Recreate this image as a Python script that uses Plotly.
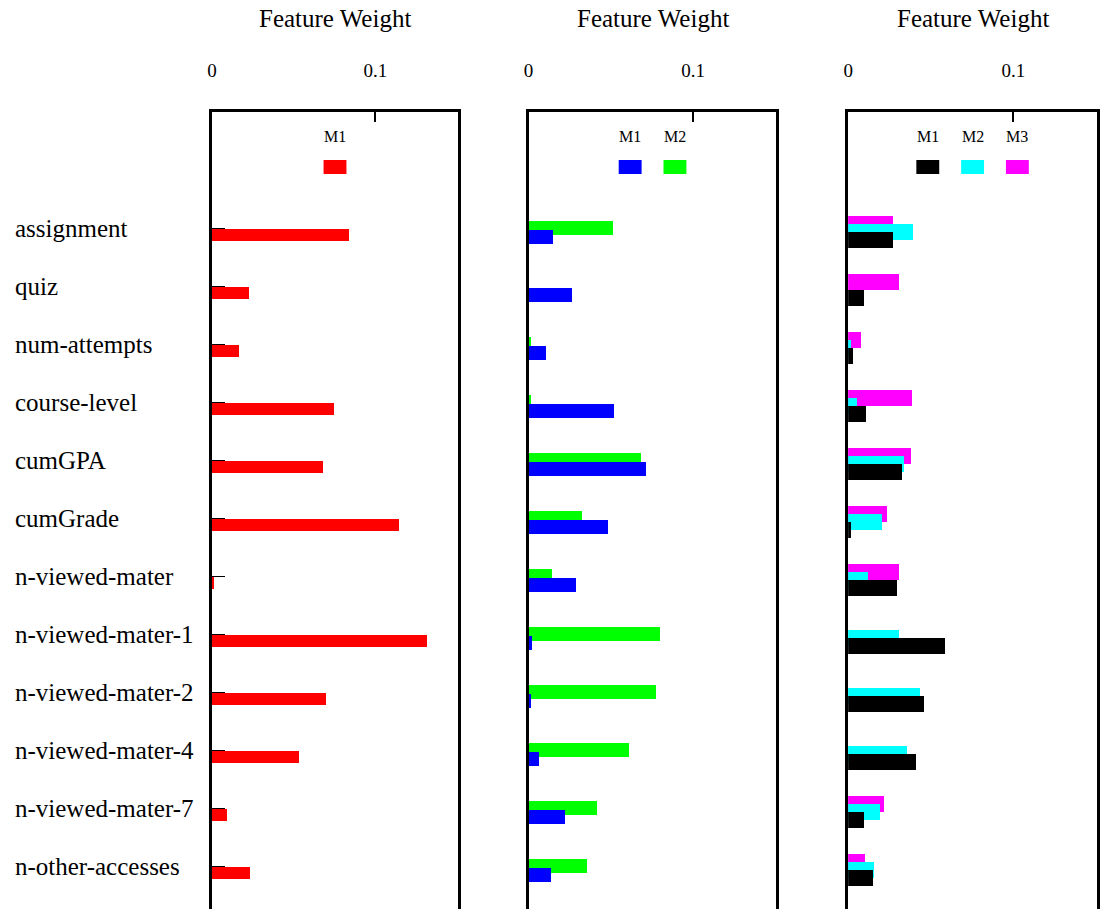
import plotly.graph_objects as go

# Feature names, top to bottom
features = [
    "assignment", "quiz", "num-attempts", "course-level", "cumGPA", "cumGrade",
    "n-viewed-mater", "n-viewed-mater-1", "n-viewed-mater-2", "n-viewed-mater-4",
    "n-viewed-mater-7", "n-other-accesses",
]

# Panel 1: single model
p1_m1 = [0.084, 0.0226, 0.0163, 0.075, 0.0677, 0.1146, 0.001, 0.1317, 0.070, 0.053, 0.009, 0.023]

# Panel 2: two models
p2_m1 = [0.0145, 0.0259, 0.0102, 0.0518, 0.071, 0.048, 0.0283, 0.0018, 0.0012, 0.006, 0.0217, 0.0133]
p2_m2 = [0.0512, 0.0, 0.0012, 0.001, 0.068, 0.032, 0.0139, 0.0795, 0.0771, 0.0608, 0.0416, 0.0355]

# Panel 3: three models
p3_m1 = [0.0271, 0.0096, 0.003, 0.0108, 0.0325, 0.0018, 0.0295, 0.0584, 0.0458, 0.041, 0.0096, 0.0151]
p3_m2 = [0.0392, 0.0, 0.0018, 0.0054, 0.0337, 0.0205, 0.012, 0.0307, 0.0434, 0.0355, 0.0193, 0.0157]
p3_m3 = [0.0271, 0.0307, 0.0078, 0.0386, 0.038, 0.0235, 0.0307, 0.0, 0.0, 0.0, 0.0217, 0.0102]

x_ticks = [0, 0.1]
x_tick_text = ["0", "0.1"]
axis_title = "Feature Weight"

W, H = 1101, 909
FONT = "Liberation Serif, Times New Roman, serif"

RED, BLUE, GREEN = "#ff0000", "#0000ff", "#00ff00"
BLACK, CYAN, MAGENTA = "#000000", "#00ffff", "#ff00ff"


def px_x(p):
    return p / W


def px_y(p):
    return 1 - p / H


# pixel extents of the three panels
panels = [(208, 455), (526, 775), (847, 1097)]
top_px = 112

fig = go.Figure()

# each panel: list of (name, values, color, offset, width) in draw order
row_h = 58.0
series = [
    [("M1", p1_m1, RED, 1 / row_h, 12 / row_h)],
    [("M2", p2_m2, GREEN, -7 / row_h, 14 / row_h),
     ("M1", p2_m1, BLUE, 2 / row_h, 14 / row_h)],
    [("M3", p3_m3, MAGENTA, -12 / row_h, 16 / row_h),
     ("M2", p3_m2, CYAN, -4 / row_h, 16 / row_h),
     ("M1", p3_m1, BLACK, 4 / row_h, 16 / row_h)],
]
legend_order = [
    [("M1", RED)],
    [("M1", BLUE), ("M2", GREEN)],
    [("M1", BLACK), ("M2", CYAN), ("M3", MAGENTA)],
]

y_range = [(H - 228) / row_h, (top_px - 228) / row_h]

annotations = []
shapes = []

for i, ((x0, x1), traces) in enumerate(zip(panels, series)):
    k = "" if i == 0 else str(i + 1)
    for name, vals, color, off, wid in traces:
        fig.add_trace(go.Bar(
            x=vals, y=features, orientation="h", name=name,
            marker=dict(color=color, line=dict(width=0)),
            offset=off, width=wid, showlegend=False,
            xaxis="x" + k, yaxis="y" + k,
        ))
    fig.update_layout(**{
        "xaxis" + k: dict(
            domain=[px_x(x0), px_x(x1)], range=[0, 0.1506], side="top",
            anchor="y" + k, showgrid=False, zeroline=False,
            showline=True, linecolor="black", linewidth=2.5,
            tickvals=x_ticks, ticktext=x_tick_text, ticks="inside",
            ticklen=10, tickwidth=2, tickcolor="black",
            ticklabelstandoff=25,
            tickfont=dict(family=FONT, size=19, color="black"),
        ),
        "yaxis" + k: dict(
            domain=[0, px_y(top_px)], range=y_range, type="category",
            anchor="x" + k, showgrid=False, zeroline=False,
            showline=True, mirror=True, linecolor="black", linewidth=2.5,
            showticklabels=False,
            ticks="inside" if i == 0 else "", ticklen=13, tickwidth=1,
            tickcolor="black",
        ),
    })

    # axis title above the tick labels
    cx = (x0 + x1) / 2
    annotations.append(dict(
        text=axis_title, xref="paper", yref="paper", x=px_x(cx), y=px_y(18),
        xanchor="center", yanchor="middle", showarrow=False,
        font=dict(family=FONT, size=25, color="black"),
    ))

    # legend: labels above colour swatches, centred in the panel
    items = legend_order[i]
    spacing = 45
    sw, sh = 23, 14
    n = len(items)
    for j, (lab, col) in enumerate(items):
        sx = cx + (j - (n - 1) / 2) * spacing
        shapes.append(dict(
            type="rect", xref="paper", yref="paper",
            x0=px_x(sx - sw / 2), x1=px_x(sx + sw / 2),
            y0=px_y(174), y1=px_y(160),
            fillcolor=col, line=dict(width=0),
        ))
        annotations.append(dict(
            text=lab, xref="paper", yref="paper", x=px_x(sx), y=px_y(136),
            xanchor="center", yanchor="middle", showarrow=False,
            font=dict(family=FONT, size=16, color="black"),
        ))

# category labels at the far left
for f in features:
    annotations.append(dict(
        text=f, xref="paper", yref="y", x=px_x(8), y=f,
        xanchor="left", yanchor="middle", showarrow=False,
        font=dict(family=FONT, size=25, color="black"),
    ))

fig.update_layout(
    width=W, height=H, margin=dict(l=0, r=0, t=0, b=0),
    paper_bgcolor="white", plot_bgcolor="white",
    barmode="overlay", bargap=0,
    annotations=annotations, shapes=shapes,
    font=dict(family=FONT, color="black"),
)

fig.write_html("out.html")
